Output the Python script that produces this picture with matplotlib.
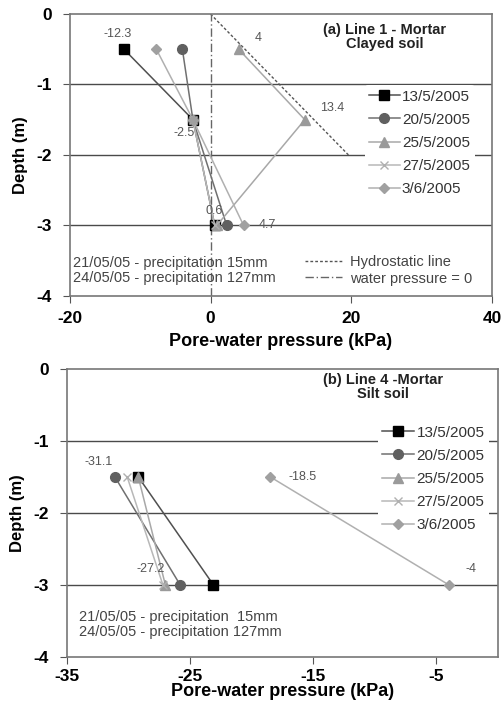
import numpy as np
import matplotlib.pyplot as plt
import matplotlib as mpl
from matplotlib.lines import Line2D

mpl.rcParams['font.family'] = ['Liberation Sans', 'DejaVu Sans']

# =========================
# Data
# =========================
dates = ["13/5/2005", "20/5/2005", "25/5/2005", "27/5/2005", "3/6/2005"]

# panel (a) - Line 1, clayed soil
depth_a = {
    "13/5/2005": [-0.5, -1.5, -3.0],
    "20/5/2005": [-0.5, -1.5, -3.0],
    "25/5/2005": [-0.5, -1.5, -3.0],
    "27/5/2005": [-1.5, -3.0],
    "3/6/2005":  [-0.5, -1.5, -3.0],
}
press_a = {
    "13/5/2005": [-12.3, -2.5, 0.6],
    "20/5/2005": [-4.0, -2.5, 2.3],
    "25/5/2005": [4.0, 13.4, 0.9],
    "27/5/2005": [-2.5, 0.6],
    "3/6/2005":  [-7.7, -2.5, 4.7],
}
hydro_x = [0.0, 19.6]
hydro_y = [0.0, -2.0]

# panel (b) - Line 4, silt soil
depth_b = [-1.5, -3.0]
press_b = {
    "13/5/2005": [-29.2, -23.1],
    "20/5/2005": [-31.1, -25.8],
    "25/5/2005": [-29.2, -27.0],
    "27/5/2005": [-30.1, -27.2],
    "3/6/2005":  [-18.5, -4.0],
}

# =========================
# Styles
# =========================
styles = {
    "13/5/2005": dict(marker="s", color="#505050", mfc="black", mec="black", ms=7),
    "20/5/2005": dict(marker="o", color="#707070", mfc="#606060", mec="#606060", ms=7),
    "25/5/2005": dict(marker="^", color="#a8a8a8", mfc="#9a9a9a", mec="#9a9a9a", ms=7),
    "27/5/2005": dict(marker="x", color="#b8b8b8", mfc="#b0b0b0", mec="#b0b0b0", ms=6),
    "3/6/2005":  dict(marker="D", color="#b0b0b0", mfc="#a0a0a0", mec="#a0a0a0", ms=5),
}

grid_c = "#4a4a4a"
tick_font = dict(fontsize=12.5, fontweight="bold")
ann_kw = dict(fontsize=9, color="#555555")


def style_axes(ax, xlim, xticks, xpad, xlabelpad):
    ax.set_xlim(*xlim)
    ax.set_ylim(-4, 0)
    ax.set_xticks(xticks)
    ax.set_yticks([0, -1, -2, -3, -4])
    ax.set_xticklabels([str(t) for t in xticks], **tick_font)
    ax.set_yticklabels(["0", "-1", "-2", "-3", "-4"], **tick_font)
    for yy in [-1, -2, -3]:
        ax.axhline(yy, color=grid_c, lw=1.0, zorder=0)
    for s in ax.spines.values():
        s.set_color("#777777")
        s.set_linewidth(1.2)
    ax.tick_params(axis="y", direction="out", length=5, color="#555555", pad=8)
    ax.tick_params(axis="x", direction="out", length=5, color="#555555", pad=xpad)
    ax.set_ylabel("Depth (m)", fontsize=12, fontweight="bold", labelpad=6)
    ax.set_xlabel("Pore-water pressure (kPa)", fontsize=13, fontweight="bold",
                  labelpad=xlabelpad)


fig = plt.figure(figsize=(5.02, 7.01), dpi=100)

# =========================
# Panel (a)
# =========================
ax1 = fig.add_axes([0.139, 0.578, 0.841, 0.402])
style_axes(ax1, (-20, 40), [-20, 0, 20, 40], 6, 5)

ax1.plot(hydro_x, hydro_y, ls=(0, (2, 1.5)), color="#555555", lw=1.0, zorder=1)
ax1.axvline(0, ls=(0, (6, 2, 1, 2)), color="#666666", lw=1.0, zorder=1)

handles = []
for d in dates:
    st = styles[d]
    h, = ax1.plot(press_a[d], depth_a[d], lw=1.1, zorder=3, **st)
    handles.append(h)

ax1.text(-13.2, -0.37, "-12.3", ha="center", va="bottom", **ann_kw)
ax1.text(-2.2, -1.6, "-2.5", ha="right", va="top", **ann_kw)
ax1.text(0.5, -2.88, "0.6", ha="center", va="bottom", **ann_kw)
ax1.text(6.8, -3.0, "4.7", ha="left", va="center", **ann_kw)
ax1.text(6.3, -0.42, "4", ha="left", va="bottom", **ann_kw)
ax1.text(15.6, -1.42, "13.4", ha="left", va="bottom", **ann_kw)

ax1.text(24.7, -0.33, "(a) Line 1 - Mortar\nClayed soil", ha="center", va="center",
         fontsize=10.5, fontweight="bold", color="#222222", linespacing=1.0)

leg1 = ax1.legend(handles, dates, loc="upper left", bbox_to_anchor=(0.68, 0.775),
                  frameon=True, facecolor="white", edgecolor="none", framealpha=1,
                  fontsize=11, handlelength=2.0, handletextpad=0.15,
                  labelspacing=0.6, borderpad=0.3, labelcolor="#333333")
ax1.add_artist(leg1)

ax1.text(-19.6, -3.64, "21/05/05 - precipitation 15mm\n24/05/05 - precipitation 127mm",
         ha="left", va="center", fontsize=10.5, color="#444444", linespacing=1.15)

ref_handles = [
    Line2D([], [], ls=(0, (2, 1.5)), color="#555555", lw=1.0),
    Line2D([], [], ls=(0, (6, 2, 1, 2)), color="#666666", lw=1.0),
]
ax1.legend(ref_handles, ["Hydrostatic line", "water pressure = 0"],
           loc="center left", bbox_to_anchor=(0.525, 0.09), frameon=False,
           fontsize=10.5, handlelength=2.6, handletextpad=0.55,
           labelspacing=0.15, labelcolor="#444444")

# =========================
# Panel (b)
# =========================
ax2 = fig.add_axes([0.133, 0.063, 0.859, 0.411])
style_axes(ax2, (-35, 0), [-35, -25, -15, -5], 3.5, -0.5)

handles2 = []
for d in dates:
    st = styles[d]
    h, = ax2.plot(press_b[d], depth_b, lw=1.1, zorder=3, **st)
    handles2.append(h)

ax2.text(-32.4, -1.38, "-31.1", ha="center", va="bottom", **ann_kw)
ax2.text(-17.0, -1.5, "-18.5", ha="left", va="center", **ann_kw)
ax2.text(-28.2, -2.86, "-27.2", ha="center", va="bottom", **ann_kw)
ax2.text(-2.2, -2.86, "-4", ha="center", va="bottom", **ann_kw)

ax2.text(-9.3, -0.26, "(b) Line 4 -Mortar\nSilt soil", ha="center", va="center",
         fontsize=10.5, fontweight="bold", color="#222222", linespacing=1.0)

ax2.legend(handles2, dates, loc="upper left", bbox_to_anchor=(0.703, 0.845),
           frameon=True, facecolor="white", edgecolor="none", framealpha=1,
           fontsize=11, handlelength=2.1, handletextpad=0.15,
           labelspacing=0.6, borderpad=0.3, labelcolor="#333333")

ax2.text(-34.0, -3.55, "21/05/05 - precipitation  15mm\n24/05/05 - precipitation 127mm",
         ha="left", va="center", fontsize=10.5, color="#444444", linespacing=1.15)

plt.savefig("out.png", dpi=100)
